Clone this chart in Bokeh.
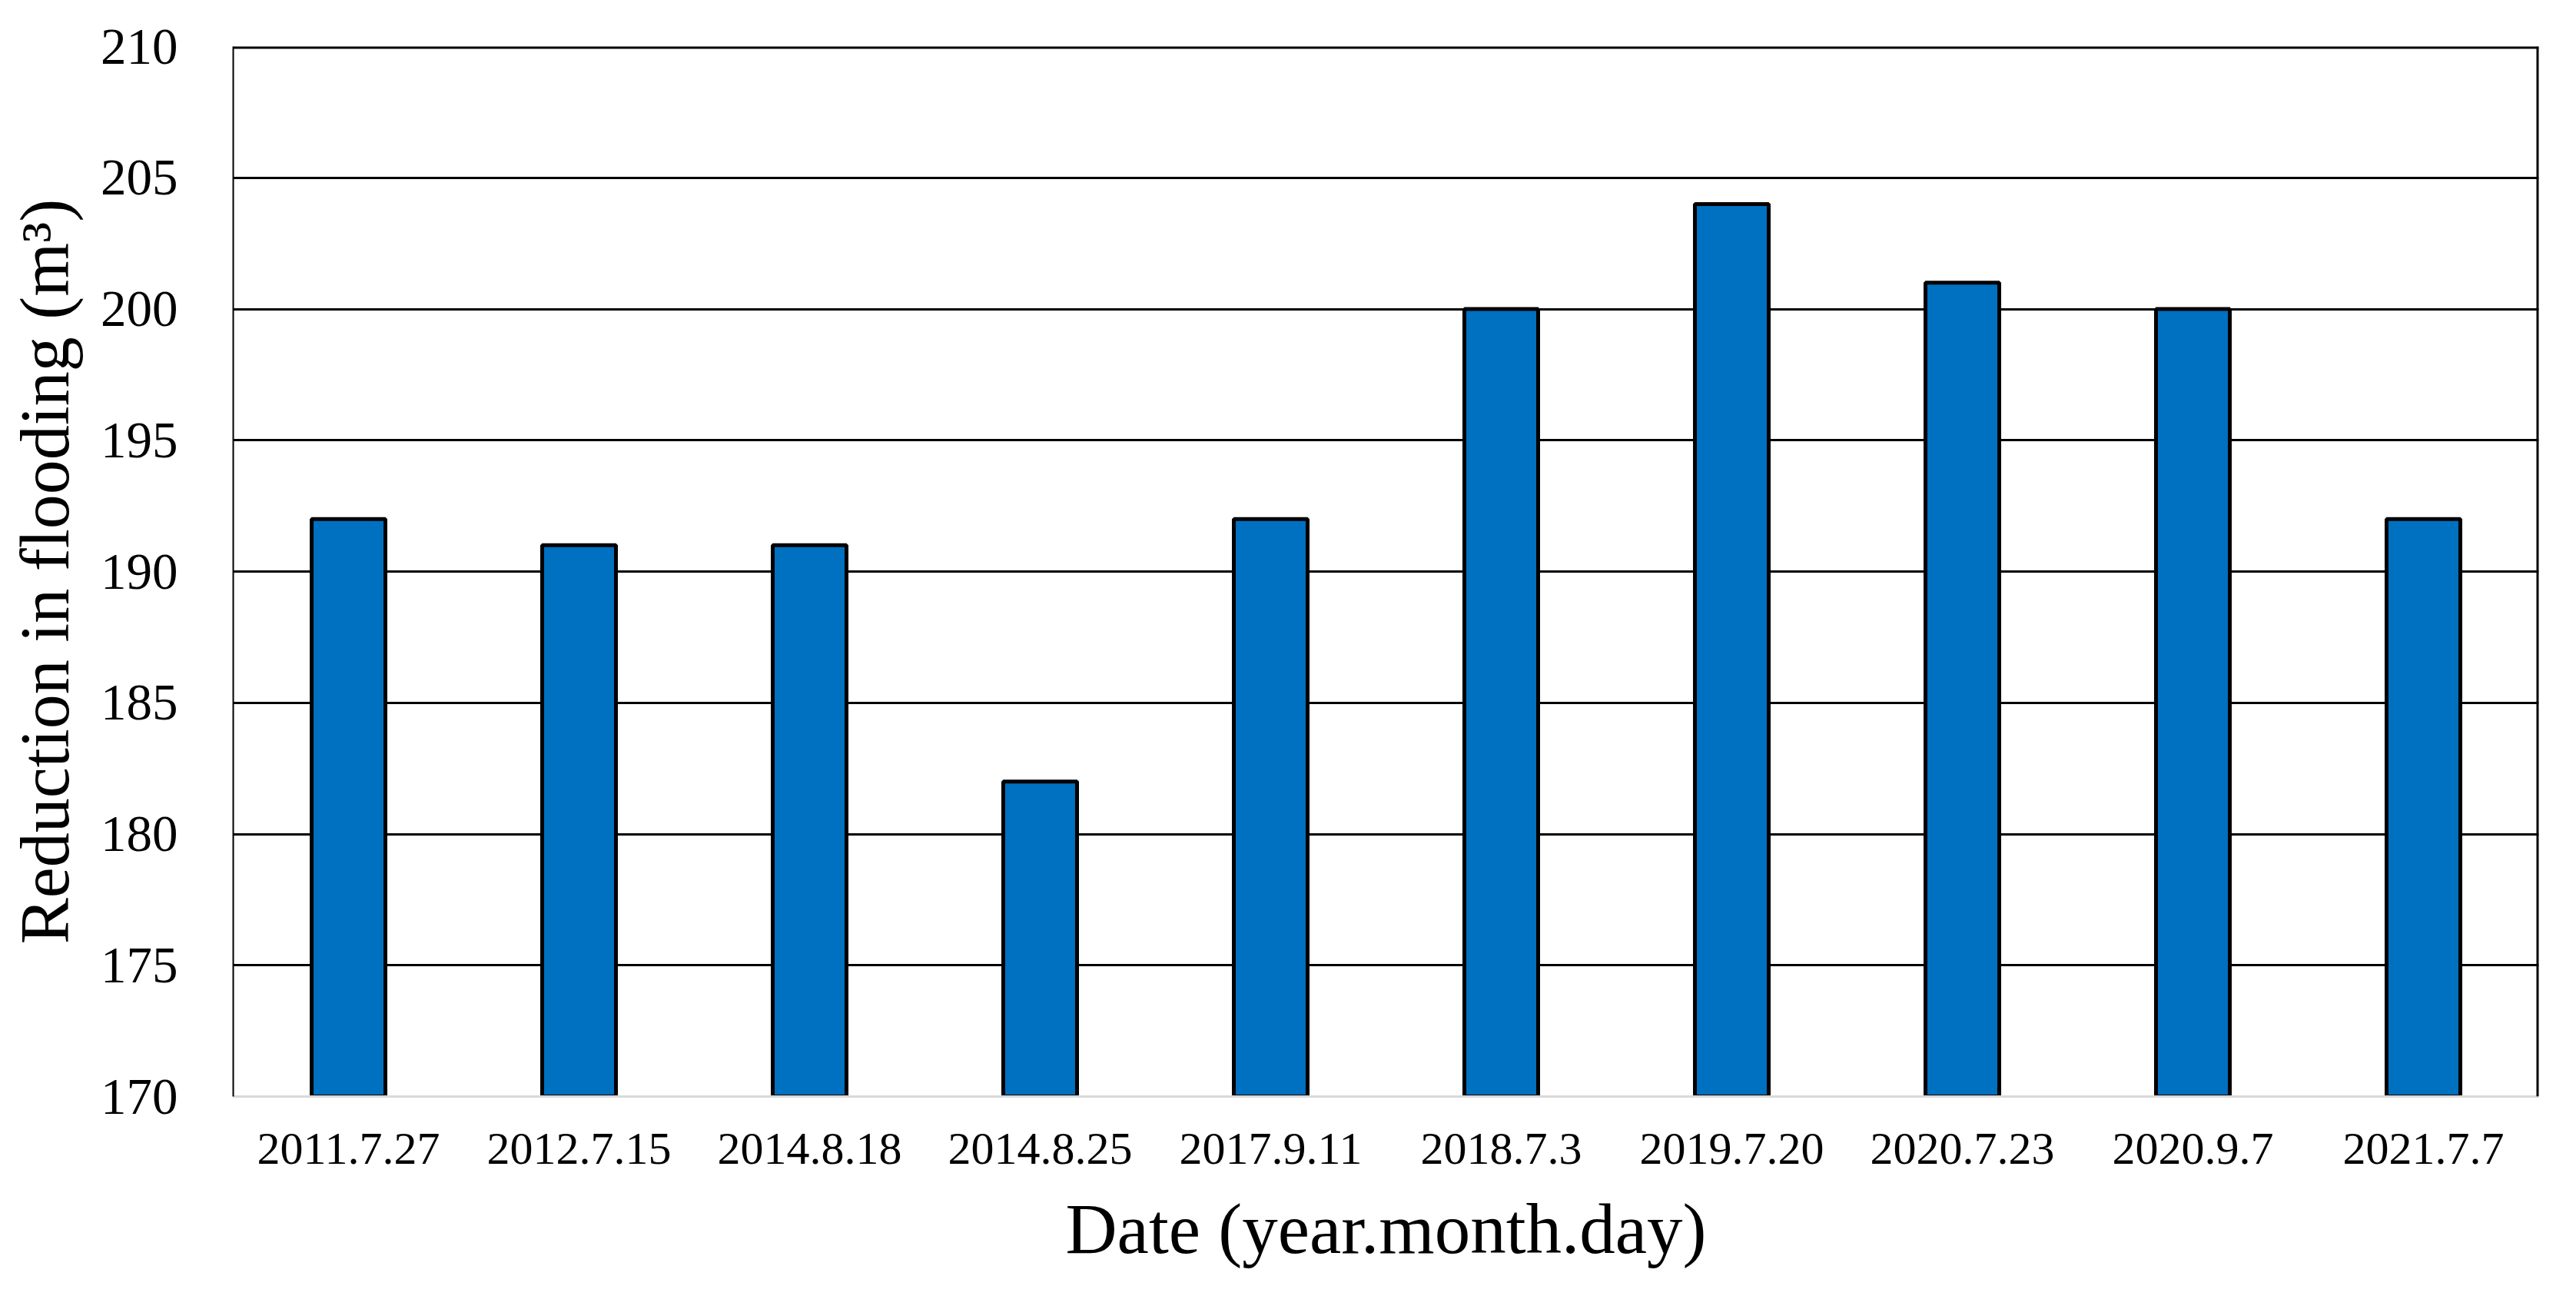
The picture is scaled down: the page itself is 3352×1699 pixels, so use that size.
from bokeh.plotting import figure
from bokeh.models import FactorRange, Range1d, FixedTicker, Span
from bokeh.embed import file_html
from bokeh.resources import INLINE

dates = ["2011.7.27", "2012.7.15", "2014.8.18", "2014.8.25", "2017.9.11",
         "2018.7.3", "2019.7.20", "2020.7.23", "2020.9.7", "2021.7.7"]
reduction = [192, 191, 191, 182, 192, 200, 204, 201, 200, 192]
y_ticks = [170, 175, 180, 185, 190, 195, 200, 205, 210]

FONT = "Liberation Serif"

p = figure(x_range=FactorRange(*dates), y_range=Range1d(170, 210),
           frame_width=3000, frame_height=1366,
           min_border_left=303, min_border_top=60, min_border_right=34, min_border_bottom=248,
           output_backend="svg", toolbar_location=None, tools="")

p.outline_line_color = None
p.background_fill_color = "white"
p.border_fill_color = "white"

p.vbar(x=dates, top=reduction, bottom=170, width=0.32,
       fill_color="#0070C0", line_color="black", line_width=5)

# grid
p.xgrid.grid_line_color = None
p.ygrid.ticker = FixedTicker(ticks=y_ticks)
p.ygrid.grid_line_color = "black"
p.ygrid.grid_line_width = 3
p.ygrid.level = "underlay"

# top and right frame borders
p.add_layout(Span(location=y_ticks[-1], dimension="width",
                  line_color="black", line_width=6))
p.add_layout(Span(location=len(dates), dimension="height",
                  line_color="black", line_width=6))

# y axis
ya = p.yaxis[0]
ya.ticker = FixedTicker(ticks=y_ticks)
ya.axis_label = "Reduction in flooding (m³)"
ya.axis_label_text_font = FONT
ya.axis_label_text_font_size = "90px"
ya.axis_label_text_font_style = "normal"
ya.axis_label_text_color = "black"
ya.axis_label_standoff = 20
ya.major_label_text_font = FONT
ya.major_label_text_font_size = "67px"
ya.major_label_text_color = "black"
ya.major_label_standoff = 66
ya.major_tick_line_color = None
ya.minor_tick_line_color = None
ya.axis_line_color = "black"
ya.axis_line_width = 2

# x axis
xa = p.xaxis[0]
xa.axis_label = "Date (year.month.day)"
xa.axis_label_text_font = FONT
xa.axis_label_text_font_size = "93px"
xa.axis_label_text_font_style = "normal"
xa.axis_label_text_color = "black"
xa.axis_label_standoff = 30
xa.major_label_text_font = FONT
xa.major_label_text_font_size = "60px"
xa.major_label_text_color = "black"
xa.major_label_standoff = 42
xa.major_tick_line_color = None
xa.axis_line_color = "#d9d9d9"
xa.axis_line_width = 3

open("out.html", "w").write(file_html(p, INLINE))
